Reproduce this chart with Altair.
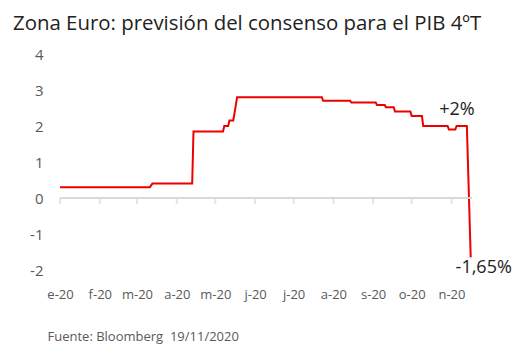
import altair as alt
import pandas as pd

# Consensus forecast for Euro-zone Q4 GDP (breakpoints of the series)
dates = [
    "2020-01-01", "2020-03-11", "2020-03-13", "2020-04-13", "2020-04-14",
    "2020-05-07", "2020-05-08", "2020-05-11", "2020-05-12", "2020-05-15",
    "2020-05-18", "2020-07-23", "2020-07-24", "2020-08-14", "2020-08-15",
    "2020-09-03", "2020-09-04", "2020-09-10", "2020-09-11", "2020-09-17",
    "2020-09-18", "2020-09-30", "2020-10-01", "2020-10-09", "2020-10-10",
    "2020-10-29", "2020-10-30", "2020-11-04", "2020-11-05", "2020-11-13",
    "2020-11-16",
]
values = [
    0.3, 0.3, 0.4, 0.4, 1.85,
    1.85, 2.0, 2.0, 2.15, 2.15,
    2.8, 2.8, 2.7, 2.7, 2.65,
    2.65, 2.58, 2.58, 2.52, 2.52,
    2.4, 2.4, 2.28, 2.28, 2.0,
    2.0, 1.9, 1.9, 2.0, 2.0,
    -1.65,
]

month_dates = [
    "2020-01-01", "2020-02-01", "2020-03-01", "2020-04-01", "2020-05-01",
    "2020-06-01", "2020-07-01", "2020-08-01", "2020-09-01", "2020-10-01",
    "2020-11-01",
]
month_labels = ["e-20", "f-20", "m-20", "a-20", "m-20", "j-20", "j-20",
                "a-20", "s-20", "o-20", "n-20"]

y_ticks = [-2, -1, 0, 1, 2, 3, 4]

ann_dates = ["2020-11-13", "2020-11-16"]
ann_values = [2.0, -1.65]
ann_texts = ["+2%", "-1,65%"]

title_text = "Zona Euro: previsión del consenso para el PIB 4ºT"
source_text = "Fuente: Bloomberg\u00a0 19/11/2020"

FONT = "Open Sans"
RED = "#EC0000"
GREY = "#D9D9D9"
LABEL = "#595959"
DARK = "#222222"

df = pd.DataFrame({"date": dates, "value": values})
months_df = pd.DataFrame({"date": month_dates, "label": month_labels})
ann_df = pd.DataFrame({"date": ann_dates, "value": ann_values, "text": ann_texts})

label_map = "{" + ",".join(
    f"'{pd.Timestamp(d).month - 1}':'{l}'" for d, l in zip(month_dates, month_labels)
) + "}"

x_scale = alt.Scale(domain=["2020-01-01", "2020-11-17"], nice=False)
y_scale = alt.Scale(domain=[-2, 4], nice=False, zero=False)

x_axis = alt.Axis(
    values=month_dates,
    labelExpr=f"{label_map}[''+month(datum.value)]",
    domain=False, ticks=False, grid=False,
    labelFont=FONT, labelFontSize=13, labelColor=LABEL,
    labelPadding=24, labelBaseline="middle", labelAlign="center",
    labelFlush=False, labelOverlap=False,
    title=source_text, titleFont=FONT, titleFontSize=13, titleFontWeight="normal",
    titleColor=LABEL, titleAnchor="start", titleAlign="left",
    titleX=-13, titleY=70, titleBaseline="alphabetic",
)
y_axis = alt.Axis(
    values=y_ticks, labelExpr="'' + datum.value", tickCount=7,
    domain=False, ticks=False, grid=False, labelOverlap=False,
    labelFont=FONT, labelFontSize=15, labelColor=LABEL, labelPadding=17,
    title=None,
)

line = alt.Chart(df).mark_line(color=RED, strokeWidth=2).encode(
    x=alt.X("date:T", scale=x_scale, axis=x_axis),
    y=alt.Y("value:Q", scale=y_scale, axis=y_axis),
)

zero = alt.Chart(df).mark_rule(color=GREY, strokeWidth=2).encode(
    y=alt.Y(datum=0, type="quantitative", scale=y_scale, axis=y_axis)
)

ticks = alt.Chart(months_df).mark_tick(
    color=GREY, orient="vertical", size=6, thickness=2, yOffset=3
).encode(
    x=alt.X("date:T", scale=x_scale, axis=x_axis),
    y=alt.Y(datum=0, type="quantitative", scale=y_scale, axis=y_axis),
)

ann_up = alt.Chart(ann_df).transform_filter(alt.datum.value > 0).mark_text(
    font=FONT, fontSize=18, color=DARK, dx=-10, dy=-16
).encode(
    x=alt.X("date:T", scale=x_scale, axis=x_axis),
    y=alt.Y("value:Q", scale=y_scale, axis=y_axis),
    text="text:N",
)
ann_down = alt.Chart(ann_df).transform_filter(alt.datum.value < 0).mark_text(
    font=FONT, fontSize=18, color=DARK, dx=13, dy=11
).encode(
    x=alt.X("date:T", scale=x_scale, axis=x_axis),
    y=alt.Y("value:Q", scale=y_scale, axis=y_axis),
    text="text:N",
)

title = alt.Chart(months_df).mark_text(
    font=FONT, fontSize=20.4, color=DARK, align="left", baseline="alphabetic"
).encode(
    x=alt.value(-47), y=alt.value(-24.5), text=alt.value(title_text)
).transform_filter("datum.label == 'e-20'")

chart = alt.layer(line, zero, ticks, ann_up, ann_down, title).properties(
    width=412,
    height=216,
    autosize=alt.AutoSizeParams(type="none"),
    padding={"left": 52, "top": 46, "right": 48, "bottom": 76},
).configure_view(stroke=None)

chart.save("out.html", embed_options={"renderer": "svg", "actions": False})
